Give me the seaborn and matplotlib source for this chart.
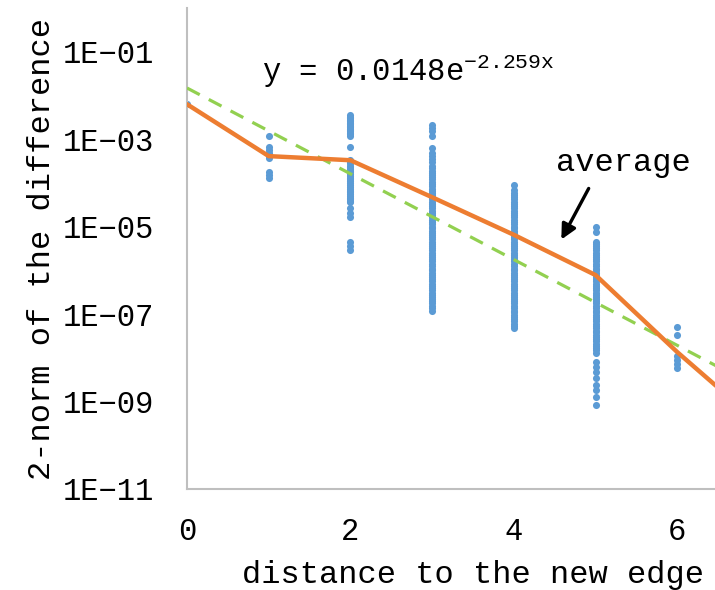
import numpy as np
import pandas as pd
import matplotlib
matplotlib.use("Agg")
import matplotlib.pyplot as plt
import seaborn as sns

# --- data -------------------------------------------------------------
col0 = [6.3e-3]
col1 = [1.2e-3, 6.6e-4, 5.6e-4, 4.8e-4, 4.1e-4, 3.7e-4, 1.8e-4, 1.5e-4, 1.3e-4]
col2 = [3.5e-3, 3.2e-3, 3.0e-3, 2.8e-3, 2.6e-3, 2.4e-3, 2.2e-3, 2.0e-3, 1.9e-3,
        1.75e-3, 1.6e-3, 1.5e-3, 1.4e-3, 1.3e-3, 1.2e-3, 6.6e-4,
        3.3e-4, 3.0e-4, 2.8e-4, 2.5e-4, 2.3e-4, 2.1e-4, 1.9e-4, 1.75e-4, 1.6e-4,
        1.45e-4, 1.3e-4, 1.2e-4, 1.1e-4, 1.0e-4, 9.0e-5, 8.2e-5, 7.4e-5, 6.7e-5,
        6.1e-5, 5.5e-5, 5.0e-5, 4.6e-5, 4.2e-5, 3.9e-5, 3.6e-5,
        2.6e-5, 2.1e-5, 1.7e-5, 4.5e-6, 3.6e-6, 2.9e-6]
col3 = [2.1e-3, 1.8e-3, 1.5e-3, 1.2e-3, 6.2e-4, 4.8e-4, 4.1e-4, 3.5e-4, 3.0e-4,
        2.5e-4, 2.2e-4,
        1.9e-4, 1.7e-4, 1.5e-4, 1.35e-4, 1.2e-4, 1.05e-4, 9.4e-5, 8.3e-5, 7.4e-5,
        6.6e-5, 5.9e-5, 5.2e-5, 4.7e-5, 4.2e-5, 3.7e-5, 3.3e-5, 2.9e-5, 2.6e-5,
        2.3e-5, 2.1e-5, 1.85e-5, 1.65e-5, 1.45e-5, 1.3e-5, 1.15e-5, 1.0e-5,
        9.1e-6, 8.1e-6, 7.2e-6, 6.4e-6, 5.7e-6, 5.1e-6, 4.5e-6, 4.0e-6, 3.6e-6,
        3.2e-6, 2.85e-6, 2.5e-6, 2.25e-6, 2.0e-6, 1.8e-6, 1.6e-6, 1.4e-6,
        1.25e-6, 1.1e-6, 1.0e-6, 8.9e-7, 7.9e-7, 7.0e-7, 6.3e-7, 5.6e-7, 5.0e-7,
        4.4e-7, 3.9e-7, 3.5e-7, 3.1e-7, 2.8e-7, 2.5e-7, 2.2e-7, 2.0e-7, 1.75e-7,
        1.55e-7, 1.4e-7, 1.2e-7]
col4 = [8.9e-5, 6.8e-5, 6.0e-5, 5.3e-5, 4.7e-5, 4.2e-5, 3.7e-5, 3.3e-5, 2.9e-5,
        2.6e-5, 2.3e-5, 2.1e-5, 1.85e-5, 1.65e-5, 1.45e-5, 1.3e-5, 1.15e-5,
        1.0e-5, 9.1e-6, 8.1e-6, 7.2e-6, 6.4e-6, 5.7e-6, 5.1e-6, 4.5e-6, 4.0e-6,
        3.6e-6, 3.2e-6, 2.85e-6, 2.5e-6, 2.25e-6, 2.0e-6, 1.8e-6, 1.6e-6, 1.4e-6,
        1.25e-6, 1.1e-6, 1.0e-6, 8.9e-7, 7.9e-7, 7.0e-7, 6.3e-7, 5.6e-7, 5.0e-7,
        4.4e-7, 3.9e-7, 3.5e-7, 3.1e-7, 2.8e-7, 2.5e-7, 2.2e-7, 2.0e-7, 1.75e-7,
        1.55e-7, 1.4e-7, 1.2e-7, 1.1e-7, 9.6e-8, 8.5e-8, 7.6e-8, 6.8e-8, 6.0e-8,
        5.4e-8, 4.8e-8]
col5 = [9.8e-6, 7.5e-6,
        4.5e-6, 4.0e-6, 3.6e-6, 3.2e-6, 2.85e-6, 2.5e-6, 2.25e-6, 2.0e-6, 1.8e-6,
        1.6e-6, 1.4e-6, 1.25e-6, 1.1e-6, 1.0e-6, 8.9e-7, 7.9e-7, 7.0e-7, 6.3e-7,
        5.6e-7, 5.0e-7, 4.4e-7, 3.9e-7, 3.5e-7, 3.1e-7, 2.8e-7, 2.5e-7, 2.2e-7,
        2.0e-7, 1.75e-7, 1.55e-7, 1.4e-7, 1.2e-7, 1.1e-7, 9.6e-8, 8.5e-8, 7.6e-8,
        6.8e-8, 6.0e-8, 5.4e-8, 4.8e-8, 4.2e-8, 3.8e-8, 3.4e-8, 3.0e-8, 2.7e-8,
        2.4e-8, 2.1e-8, 1.9e-8, 1.7e-8, 1.5e-8, 1.3e-8,
        7.9e-9, 6.2e-9, 4.7e-9, 3.5e-9, 2.4e-9, 1.8e-9, 1.3e-9, 8.3e-10]
col6 = [5.0e-8, 3.4e-8, 1.1e-8, 9.0e-9, 7.2e-9, 5.9e-9]
samples = [col0, col1, col2, col3, col4, col5, col6]

avg_x = [0, 1, 2, 3, 4, 5, 6, 7]
avg_y = [6.3e-3, 4.1e-4, 3.3e-4, 4.7e-5, 6.5e-6, 7.8e-7, 1.35e-8, 3.2e-10]

fit_a, fit_b = 0.0148, -2.259

y_ticks = [1e-11, 1e-9, 1e-7, 1e-5, 1e-3, 1e-1]
y_labels = ["1E\u221211", "1E\u221209", "1E\u221207", "1E\u221205", "1E\u221203", "1E\u221201"]
x_ticks = [0, 2, 4, 6]

# --- frames -----------------------------------------------------------
pts = pd.DataFrame({
    "distance": np.concatenate([[d] * len(v) for d, v in enumerate(samples)]),
    "norm": np.concatenate(samples),
})
avg = pd.DataFrame({"distance": avg_x, "norm": avg_y})
fx = np.linspace(0, 7, 200)
fit = pd.DataFrame({"distance": fx, "norm": fit_a * np.exp(fit_b * fx)})

# --- style ------------------------------------------------------------
sns.set_style("white")
plt.rcParams["font.family"] = ["Liberation Mono", "DejaVu Sans"]
plt.rcParams["mathtext.fontset"] = "custom"
plt.rcParams["mathtext.rm"] = "Liberation Mono"

W, H = 715, 590
fig = plt.figure(figsize=(W / 100, H / 100), dpi=100)
ax = fig.add_axes([187 / W, 1 - 489 / H, (759 - 187) / W, (489 - 8) / H])

blue, orange, green = "#5B9BD5", "#ED7D31", "#92D050"

sns.scatterplot(data=pts, x="distance", y="norm", ax=ax, color=blue,
                s=26, linewidth=0, zorder=2, legend=False)
sns.lineplot(data=fit, x="distance", y="norm", ax=ax, color=green,
             linewidth=2.3, dashes=False, zorder=3)
ax.lines[-1].set_dashes((4.5, 3.2))
sns.lineplot(data=avg, x="distance", y="norm", ax=ax, color=orange,
             linewidth=3.2, zorder=4)

ax.set_yscale("log")
ax.set_ylim(1e-11, 1e0)
ax.set_xlim(0, 7)
ax.set_yticks(y_ticks)
ax.set_yticklabels(y_labels)
ax.minorticks_off()
ax.set_xticks(x_ticks)
ax.set_xticklabels([str(t) for t in x_ticks])
ax.tick_params(axis="both", length=0, labelsize=22, colors="black")
ax.tick_params(axis="y", pad=24)
ax.tick_params(axis="x", pad=20)

for side in ("top", "right"):
    ax.spines[side].set_visible(False)
for side in ("left", "bottom"):
    ax.spines[side].set_color("#BFBFBF")
    ax.spines[side].set_linewidth(1.5)

ax.set_xlabel("distance to the new edge", fontsize=23, color="black")
ax.set_ylabel("2-norm of the difference", fontsize=23, color="black")
ax.xaxis.set_label_coords(0.5, -0.148)
ax.yaxis.set_label_coords(-0.228, 0.5)

# fitted trend equation
fig.text(262 / W, 1 - 81 / H, r"y = 0.0148e$^{\mathregular{-2.259x}}$",
         fontsize=22, color="black", va="baseline", ha="left")

# label and arrow for the average curve
fig.text(623 / W, 1 - 163 / H, "average", fontsize=23, color="black",
         ha="center", va="center")
ax.annotate("", xy=(560 / W, 1 - 242 / H), xycoords="figure fraction",
            xytext=(590 / W, 1 - 186 / H), textcoords="figure fraction",
            arrowprops=dict(arrowstyle="-|>,head_width=0.45,head_length=0.9",
                            color="black", lw=2.4))

fig.savefig("out.png", dpi=100)
